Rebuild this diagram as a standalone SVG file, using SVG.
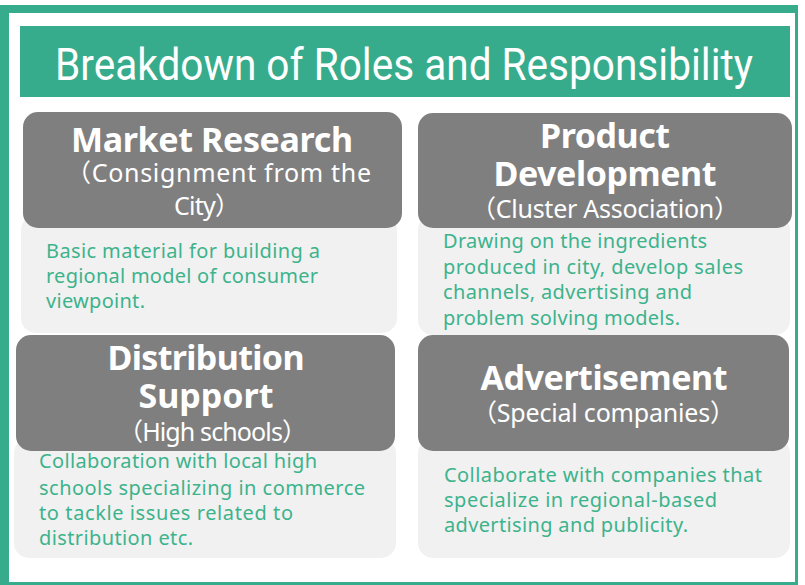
<svg xmlns="http://www.w3.org/2000/svg" width="805" height="585" viewBox="0 0 805 585">
  <style>
    .frame { fill: #36AC8C; }
    .title-bar { fill: #36AC8C; }
    .title { fill: #FFFFFF; font-family: Roboto, "Liberation Sans", sans-serif; font-size: 44px; }
    .head-box { fill: #7F7F7F; }
    .body-box { fill: #F1F1F1; }
    .head { fill: #FFFFFF; font-family: "Noto Sans", "Liberation Sans", sans-serif; font-weight: bold; font-size: 34px; text-anchor: middle; }
    .sub { fill: #FFFFFF; font-family: "Noto Sans", "Noto Sans CJK JP", sans-serif; font-size: 25px; }
    .body { fill: #3DB38C; font-family: "Noto Sans", "Liberation Sans", sans-serif; font-size: 20px; }
  </style>

  <!-- page frame: heavy left/top rule, thin right/bottom rule -->
  <rect class="frame" x="0" y="5" width="798" height="580"/>
  <rect x="9" y="13" width="786" height="569" fill="#FFFFFF"/>

  <!-- heading banner -->
  <g id="title">
    <rect class="title-bar" x="20" y="26" width="770" height="71"/>
    <text class="title" x="55" y="80" textLength="698" lengthAdjust="spacingAndGlyphs">Breakdown of Roles and Responsibility</text>
  </g>

  <!-- Market Research -->
  <g id="market-research">
    <rect class="body-box" x="21" y="215" width="376" height="118" rx="15"/>
    <rect class="head-box" x="23" y="112" width="379" height="116" rx="15"/>
    <text class="head" x="212" y="152" textLength="282">Market Research</text>
    <text class="sub" x="66" y="182" textLength="305">（Consignment from the</text>
    <text class="sub" x="174" y="215" textLength="66">City）</text>
    <text class="body" x="46" y="258" textLength="274">Basic material for building a</text>
    <text class="body" x="46" y="283" textLength="272">regional model of consumer</text>
    <text class="body" x="46" y="308" textLength="99">viewpoint.</text>
  </g>

  <!-- Product Development -->
  <g id="product-development">
    <rect class="body-box" x="418" y="215" width="372" height="120" rx="15"/>
    <rect class="head-box" x="418" y="113" width="374" height="115" rx="15"/>
    <text class="head" x="605" y="148" textLength="130">Product</text>
    <text class="head" x="605" y="186" textLength="223">Development</text>
    <text class="sub" x="471" y="218" textLength="268">（Cluster Association）</text>
    <text class="body" x="443" y="248" textLength="264">Drawing on the ingredients</text>
    <text class="body" x="443" y="274" textLength="300">produced in city, develop sales</text>
    <text class="body" x="443" y="299" textLength="249">channels, advertising and</text>
    <text class="body" x="443" y="325" textLength="237">problem solving models.</text>
  </g>

  <!-- Distribution Support -->
  <g id="distribution-support">
    <rect class="body-box" x="14" y="438" width="382" height="120" rx="15"/>
    <rect class="head-box" x="16" y="335" width="379" height="116" rx="15"/>
    <text class="head" x="206" y="370" textLength="197">Distribution</text>
    <text class="head" x="206" y="408" textLength="135">Support</text>
    <text class="sub" x="118" y="441" textLength="189">（High schools）</text>
    <text class="body" x="39" y="468" textLength="278">Collaboration with local high</text>
    <text class="body" x="39" y="495" textLength="326">schools specializing in commerce</text>
    <text class="body" x="39" y="520" textLength="254">to tackle issues related to</text>
    <text class="body" x="39" y="545" textLength="154">distribution etc.</text>
  </g>

  <!-- Advertisement -->
  <g id="advertisement">
    <rect class="body-box" x="418" y="438" width="372" height="120" rx="15"/>
    <rect class="head-box" x="418" y="335" width="371" height="116" rx="15"/>
    <text class="head" x="604" y="390" textLength="247">Advertisement</text>
    <text class="sub" x="472" y="422" textLength="263">（Special companies）</text>
    <text class="body" x="444" y="482" textLength="318">Collaborate with companies that</text>
    <text class="body" x="444" y="507" textLength="273">specialize in regional-based</text>
    <text class="body" x="444" y="532" textLength="244">advertising and publicity.</text>
  </g>
</svg>
